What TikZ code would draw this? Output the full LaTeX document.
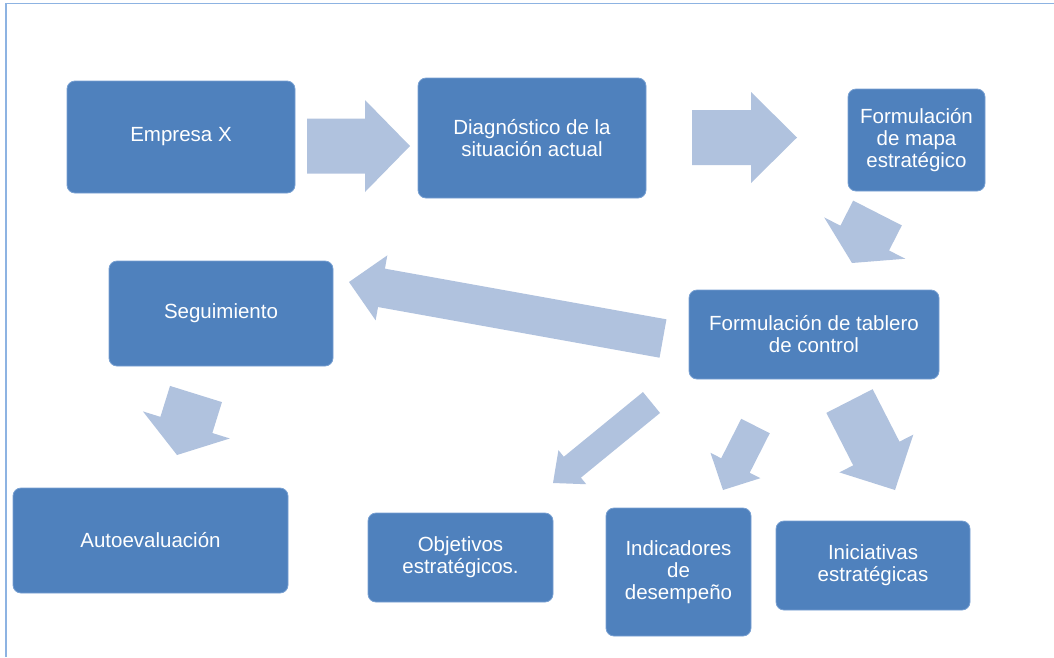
\documentclass[tikz,border=0pt]{standalone}
\usepackage{fontspec}
\setmainfont{Liberation Sans}
\usetikzlibrary{calc}
\definecolor{boxblue}{RGB}{79,129,189}
\definecolor{boxedge}{RGB}{120,160,210}
\definecolor{arrowblue}{RGB}{176,194,222}
\definecolor{frameblue}{RGB}{141,179,226}
% #1 tail coordinate, #2 tip coordinate, #3 shaft width, #4 head width, #5 head length
\newcommand{\blockarrow}[5]{%
  \coordinate (ba-n) at ($(#2)!#5!(#1)$);
  \fill[arrowfill] ($(#1)!#3/2!90:(#2)$) -- ($(ba-n)!#3/2!90:(#2)$)
    -- ($(ba-n)!#4/2!90:(#2)$) -- (#2) -- ($(ba-n)!#4/2!-90:(#2)$)
    -- ($(ba-n)!#3/2!-90:(#2)$) -- ($(#1)!#3/2!-90:(#2)$) -- cycle;}
\begin{document}
\begin{tikzpicture}[x=1pt,y=-1pt,
  box/.style={rectangle, rounded corners=8pt, fill=boxblue, draw=boxedge,
    line width=0.8pt, text=white, align=center, inner sep=0pt,
    font=\fontsize{20.5pt}{22pt}\selectfont},
  arrowfill/.style={fill=arrowblue},
  frameline/.style={draw=frameblue, line width=1.5pt}]
\useasboundingbox (0,0) rectangle (1054,657);
\draw[frameline] (6,657) -- (6,3.5) -- (1054,3.5);

% boxes
\node[box, minimum width=228pt, minimum height=112pt] (empresa) at (181,137) {Empresa X};
\node[box, minimum width=228pt, minimum height=120pt] (diag) at (532,138) {Diagnóstico de la\\situación actual};
\node[box, minimum width=137pt, minimum height=102pt] (mapa) at (916.5,140) {Formulación\\de mapa\\estratégico};
\node[box, minimum width=224pt, minimum height=105pt] (seg) at (221,313.5) {Seguimiento};
\node[box, minimum width=250pt, minimum height=89pt] (tablero) at (814,334.5) {Formulación de tablero\\de control};
\node[box, minimum width=275pt, minimum height=105pt] (auto) at (150.5,540.5) {Autoevaluación};
\node[box, minimum width=185pt, minimum height=89pt] (obj) at (460.5,557.5) {Objetivos\\estratégicos.};
\node[box, minimum width=145pt, minimum height=128pt] (ind) at (678.5,572) {Indicadores\\de\\desempeño};
\node[box, minimum width=194pt, minimum height=89pt] (ini) at (873,565.5) {Iniciativas\\estratégicas};

% arrow end points
\coordinate (a1s) at (307,146);     \coordinate (a1e) at (410,146);
\coordinate (a2s) at (692,137.5);   \coordinate (a2e) at (797,137.5);
\coordinate (a3s) at (877.5,213);   \coordinate (a3e) at (852,263);
\coordinate (a4s) at (663,338.5);   \coordinate (a4e) at (349,282);
\coordinate (a5s) at (196,394);     \coordinate (a5e) at (177,455);
\coordinate (a6s) at (651.5,402.5); \coordinate (a6e) at (553,483);
\coordinate (a7s) at (755.5,426);   \coordinate (a7e) at (723,490);
\coordinate (a8s) at (849.5,401);   \coordinate (a8e) at (895,490);

\blockarrow{a1s}{a1e}{55pt}{92pt}{45pt}
\blockarrow{a2s}{a2e}{55pt}{91pt}{46pt}
\blockarrow{a3s}{a3e}{54.6pt}{91pt}{28pt}
\blockarrow{a4s}{a4e}{39pt}{66pt}{33pt}
\blockarrow{a5s}{a5e}{54.4pt}{91pt}{31.5pt}
\blockarrow{a6s}{a6e}{27pt}{44pt}{25pt}
\blockarrow{a7s}{a7e}{32pt}{56pt}{27.5pt}
\blockarrow{a8s}{a8e}{52pt}{83pt}{41pt}
\end{tikzpicture}
\end{document}
